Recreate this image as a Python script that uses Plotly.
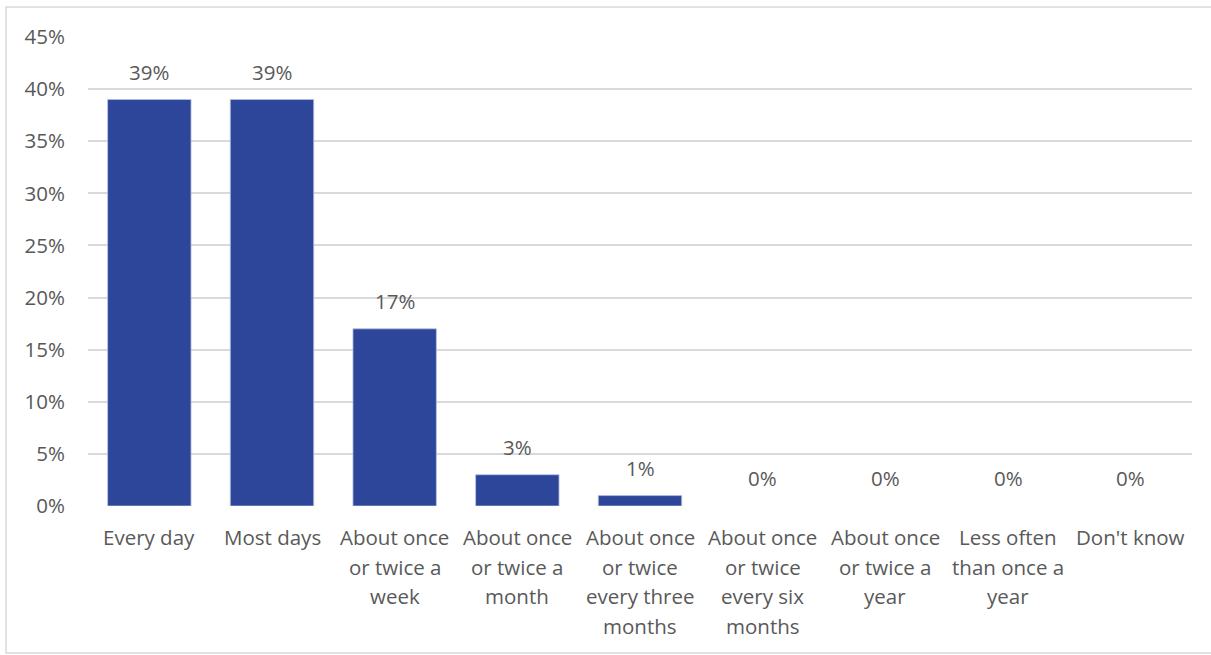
import plotly.graph_objects as go

# Survey response categories (each line of a label is drawn separately)
categories = [
    "Every day",
    "Most days",
    "About once or twice a week",
    "About once or twice a month",
    "About once or twice every three months",
    "About once or twice every six months",
    "About once or twice a year",
    "Less often than once a year",
    "Don't know",
]
label_lines = [
    ["Every day"],
    ["Most days"],
    ["About once", "or twice a", "week"],
    ["About once", "or twice a", "month"],
    ["About once", "or twice", "every three", "months"],
    ["About once", "or twice", "every six", "months"],
    ["About once", "or twice a", "year"],
    ["Less often", "than once a", "year"],
    ["Don't know"],
]
values = [39, 39, 17, 3, 1, 0, 0, 0, 0]
y_ticks = [0, 5, 10, 15, 20, 25, 30, 35, 40, 45]

FONT = "'Open Sans', sans-serif"
SIZE = 20.5
TEXT = "#595959"
GRID = "#D9D9D9"
BAR = "#2E4699"

fig = go.Figure()
fig.add_trace(go.Bar(
    x=categories,
    y=values,
    marker=dict(color=BAR,
                line=dict(color="#B4C0E4",
                          width=[0.8 if v > 0 else 0 for v in values])),
    hoverinfo="skip",
))

annotations = []
# value labels above each bar
for cat, v in zip(categories, values):
    annotations.append(dict(
        x=cat, y=v, xref="x", yref="y", text=f"{v}%", showarrow=False,
        yanchor="bottom", yshift=12, font=dict(family=FONT, size=SIZE, color=TEXT),
    ))
# category labels, one line per annotation for Excel-like line spacing
for cat, lines in zip(categories, label_lines):
    for i, line in enumerate(lines):
        annotations.append(dict(
            x=cat, y=0, xref="x", yref="paper", text=line, showarrow=False,
            yanchor="middle", yshift=-(31 + 29.5 * i),
            font=dict(family=FONT, size=SIZE, color=TEXT),
        ))

fig.update_layout(
    width=1211, height=655,
    margin=dict(l=88, r=19, t=37, b=149),
    paper_bgcolor="white", plot_bgcolor="white",
    bargap=0.32,
    showlegend=False,
    annotations=annotations,
    font=dict(family=FONT, size=SIZE, color=TEXT),
    xaxis=dict(showticklabels=False, showgrid=False, zeroline=False,
               showline=False, ticks=""),
    yaxis=dict(range=[0, 45], tickvals=y_ticks,
               ticktext=[f"{t}%" for t in y_ticks],
               showgrid=True, gridcolor=GRID, gridwidth=1.5,
               zeroline=False, showline=False, ticks="",
               ticklabelstandoff=22,
               tickfont=dict(family=FONT, size=SIZE, color=TEXT)),
    shapes=[dict(type="rect", xref="paper", yref="paper",
                 x0=-82 / 1104, x1=1140 / 1104,
                 y0=-147 / 469, y1=499 / 469,
                 line=dict(color=GRID, width=1.5), layer="below")],
)

fig.write_html("out.html")
